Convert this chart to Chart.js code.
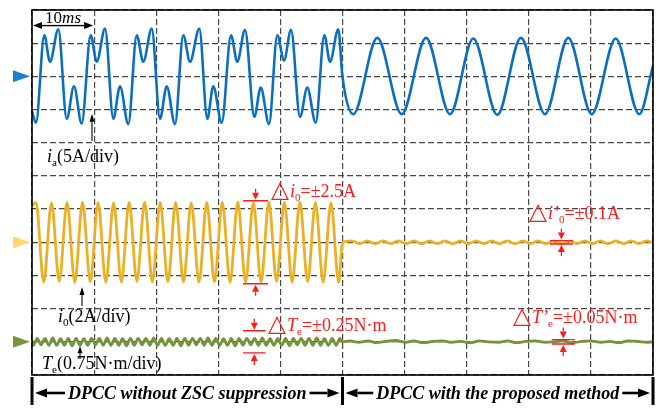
<!DOCTYPE html>
<html>
<head>
<meta charset="utf-8">
<script src="https://cdn.jsdelivr.net/npm/chart.js@4/dist/chart.umd.min.js"></script>
<style>
  html, body { margin: 0; padding: 0; background: #ffffff; }
  #wrap { width: 658px; height: 408px; }
</style>
</head>
<body>
<div id="wrap"><canvas id="scope" width="658" height="408"></canvas></div>
<script>
// ---- Time base: 10 ms per division, 10 divisions; ZSC suppression switched on at 50 ms ----
const timeDivs = [0, 10, 20, 30, 40, 50, 60, 70, 80, 90, 100];
const switchTime = 50;

// ---- Phase current i_a (A) ----
const iaTime = [
  0, 0.64,
  1.98, 2.90, 4.24, 5.59, 6.76, 8.00,
  9.45, 10.42, 11.76, 13.09, 14.17, 15.51,
  16.86, 17.92, 19.28, 20.61, 21.69, 23.03,
  24.36, 25.44, 26.94, 28.23, 29.19, 30.55,
  32.04, 33.06, 34.30, 35.80, 36.83, 38.17,
  39.50, 40.58, 41.71, 43.16, 44.33, 45.68,
  47.07, 47.99, 49.32, 50.00,
  51.74, 55.60, 59.53, 63.45, 67.31, 71.06, 74.93, 78.74, 82.61, 86.36, 90.13, 93.99, 97.79, 100
];
const iaCurrent = [
  -5.3, -7.0,
  6.2, 2.2, 7.1, -6.4, -1.5, -7.1,
  6.2, 2.2, 7.2, -6.4, -1.5, -7.2,
  6.2, 2.2, 7.2, -6.4, -1.5, -7.2,
  6.2, 2.2, 7.2, -6.4, -1.5, -7.0,
  6.2, 2.2, 7.0, -6.1, -1.7, -7.2,
  6.2, 2.4, 7.0, -6.1, -1.7, -7.0,
  6.2, 2.2, 7.1, -0.1,
  -5.7, 5.8, -5.7, 5.8, -5.7, 5.7, -5.8, 5.8, -5.7, 5.8, -5.7, 5.7, -5.7, 1.6
];

// ---- Zero-sequence current i_0 (A) ----
const i0Time = [
  0, 0.64, 1.89, 3.14, 4.39, 5.64, 6.89, 8.14, 9.39, 10.64, 11.89,
  13.14, 14.39, 15.64, 16.89, 18.14, 19.39, 20.64, 21.89, 23.14, 24.39,
  25.64, 26.89, 28.14, 29.39, 30.64, 31.89, 33.14, 34.39, 35.64, 36.89,
  38.14, 39.39, 40.64, 41.89, 43.14, 44.39, 45.64, 46.89, 48.14, 49.39, 50.0,
  51.5, 52.75, 54.0, 55.25, 56.5, 57.75, 59.0, 60.25, 61.5, 62.75,
  64.0, 65.25, 66.5, 67.75, 69.0, 70.25, 71.5, 72.75, 74.0, 75.25,
  76.5, 77.75, 79.0, 80.25, 81.5, 82.75, 84.0, 85.25, 86.5, 87.75,
  89.0, 90.25, 91.5, 92.75, 94.0, 95.25, 96.5, 97.75, 99.0, 100.0
];
const i0Current = [
  2.2, 2.4, -2.4, 2.38, -2.36, 2.4, -2.4, 2.42, -2.38, 2.4, -2.4,
  2.38, -2.4, 2.4, -2.36, 2.42, -2.4, 2.4, -2.38, 2.4, -2.4,
  2.38, -2.42, 2.4, -2.38, 2.4, -2.4, 2.42, -2.4, 2.38, -2.4,
  2.4, -2.36, 2.4, -2.4, 2.42, -2.38, 2.4, -2.4, 2.38, -2.42, 0.0,
  0.09, -0.08, 0.09, -0.09, 0.08, -0.08, 0.09, -0.08, 0.09, -0.09,
  0.08, -0.08, 0.09, -0.08, 0.09, -0.09, 0.08, -0.08, 0.09, -0.08,
  0.09, -0.09, 0.08, -0.08, 0.09, -0.08, 0.09, -0.09, 0.08, -0.08,
  0.09, -0.08, 0.09, -0.09, 0.08, -0.08, 0.09, -0.08, 0.09, -0.03
];

// ---- Electromagnetic torque ripple T_e (N·m, around its mean) ----
const teTime = [
  0,
  0.22, 0.84, 1.47, 2.09, 2.72, 3.34, 3.97, 4.59, 5.22, 5.84,
  6.47, 7.09, 7.72, 8.34, 8.97, 9.59, 10.22, 10.84, 11.47, 12.09,
  12.72, 13.34, 13.97, 14.59, 15.22, 15.84, 16.47, 17.09, 17.72, 18.34,
  18.97, 19.59, 20.22, 20.84, 21.47, 22.09, 22.72, 23.34, 23.97, 24.59,
  25.22, 25.84, 26.47, 27.09, 27.72, 28.34, 28.97, 29.59, 30.22, 30.84,
  31.47, 32.09, 32.72, 33.34, 33.97, 34.59, 35.22, 35.84, 36.47, 37.09,
  37.72, 38.34, 38.97, 39.59, 40.22, 40.84, 41.47, 42.09, 42.72, 43.34,
  43.97, 44.59, 45.22, 45.84, 46.47, 47.09, 47.72, 48.34, 48.97, 49.59,
  50.0,
  51.2, 52.6, 54.1, 55.5, 57.0, 58.6, 60.1, 61.5, 63.0, 64.6,
  66.1, 67.5, 69.0, 70.6, 72.0, 73.5, 75.1, 76.6, 78.0, 79.5,
  81.1, 82.6, 84.0, 85.5, 87.1, 88.5, 90.0, 91.6, 93.1, 94.5,
  96.0, 97.6, 99.0, 100.0
];
const teTorque = [
  0.02,
  -0.08, 0.08, -0.07, 0.08, -0.08, 0.09, -0.08, 0.07, -0.08, 0.08,
  -0.09, 0.08, -0.08, 0.07, -0.08, 0.08, -0.07, 0.08, -0.08, 0.09,
  -0.08, 0.08, -0.08, 0.07, -0.09, 0.08, -0.08, 0.08, -0.07, 0.08,
  -0.08, 0.09, -0.08, 0.08, -0.08, 0.07, -0.08, 0.08, -0.09, 0.08,
  -0.08, 0.08, -0.07, 0.08, -0.08, 0.09, -0.08, 0.08, -0.08, 0.07,
  -0.08, 0.08, -0.09, 0.08, -0.08, 0.08, -0.07, 0.08, -0.08, 0.09,
  -0.08, 0.07, -0.08, 0.08, -0.08, 0.08, -0.09, 0.08, -0.07, 0.08,
  -0.08, 0.08, -0.08, 0.09, -0.08, 0.07, -0.08, 0.08, -0.08, 0.08,
  0.0,
  0.02, -0.01, 0.02, -0.02, 0.01, 0.03, -0.01, 0.02, -0.02, 0.01,
  0.02, -0.01, 0.01, -0.02, 0.02, 0.0, -0.01, 0.02, -0.02, 0.01,
  0.02, -0.01, 0.0, 0.02, -0.02, 0.01, 0.02, -0.01, 0.01, -0.02,
  0.02, 0.01, -0.01, 0.0
];

// ---- Ripple bands quoted on the screen ----
const i0RippleBefore = 2.5;    // A
const i0RippleAfter = 0.1;     // A
const teRippleBefore = 0.25;   // N·m
const teRippleAfter = 0.05;    // N·m

// ---- Channel settings: per-division scaling and ground level (in divisions) ----
const channels = {
  ia: { perDiv: 5,    ground: 9, color: '#0b6fc1', marker: '#1b7fd1' },
  i0: { perDiv: 2,    ground: 4, color: '#ecb025', marker: '#ffd76c' },
  te: { perDiv: 0.75, ground: 1, color: '#76923c', marker: '#78953f' }
};
const toDiv = (ch, v) => channels[ch].ground + v / channels[ch].perDiv;
const trace = (ch, times, values) => times.map((t, i) => ({ x: t, y: toDiv(ch, values[i]) }));

const SERIF = '"Liberation Serif", "Times New Roman", "DejaVu Serif", serif';

// Text run with italic / subscript pieces; `scale` enlarges a single glyph (the delta sign)
function drawRich(ctx, parts, x, y, size, color) {
  let cx = x;
  ctx.fillStyle = color;
  ctx.textAlign = 'left';
  ctx.textBaseline = 'alphabetic';
  for (const p of parts) {
    const fs = (p.sub ? size * 0.62 : size) * (p.scale || 1);
    ctx.font = (p.italic ? 'italic ' : '') + (p.bold ? 'bold ' : '') + fs + 'px ' + SERIF;
    ctx.fillText(p.t, cx, p.sub ? y + size * 0.22 : y);
    cx += ctx.measureText(p.t).width + (p.gap || 0);
  }
  return cx - x;
}

function arrow(ctx, x1, y1, x2, y2, headLen, headW, lw, color) {
  const ang = Math.atan2(y2 - y1, x2 - x1);
  const bx = x2 - headLen * Math.cos(ang), by = y2 - headLen * Math.sin(ang);
  ctx.strokeStyle = color;
  ctx.lineWidth = lw;
  ctx.beginPath(); ctx.moveTo(x1, y1); ctx.lineTo(bx, by); ctx.stroke();
  ctx.fillStyle = color;
  ctx.beginPath();
  ctx.moveTo(x2, y2);
  ctx.lineTo(bx + headW / 2 * Math.sin(ang), by - headW / 2 * Math.cos(ang));
  ctx.lineTo(bx - headW / 2 * Math.sin(ang), by + headW / 2 * Math.cos(ang));
  ctx.closePath();
  ctx.fill();
}

// Red bracket with inward arrows marking a ripple band
function rippleBracket(ctx, xL, xR, yTop, yBot, color) {
  ctx.strokeStyle = color;
  ctx.lineWidth = 1.4;
  ctx.beginPath();
  ctx.moveTo(xL, yTop); ctx.lineTo(xR, yTop);
  ctx.moveTo(xL, yBot); ctx.lineTo(xR, yBot);
  ctx.stroke();
  const xm = (xL + xR) / 2;
  arrow(ctx, xm, yTop - 12, xm, yTop - 1, 7, 7, 1.3, color);
  arrow(ctx, xm, yBot + 12, xm, yBot + 1, 7, 7, 1.3, color);
}

const DELTA = { t: '\u25b3', scale: 1.3, gap: 1 };

const scopeOverlay = {
  id: 'scopeOverlay',
  afterDatasetsDraw(chart) {
    const { ctx, chartArea: a, scales: { x, y } } = chart;
    const px = t => x.getPixelForValue(t);
    const py = d => y.getPixelForValue(d);
    const RED = '#ff1a1a';
    ctx.save();

    // screen frame
    ctx.strokeStyle = '#000';
    ctx.lineWidth = 1.6;
    ctx.strokeRect(a.left, a.top, a.right - a.left, a.bottom - a.top);

    // channel ground markers
    for (const key of ['ia', 'i0', 'te']) {
      const yy = py(channels[key].ground);
      ctx.fillStyle = channels[key].marker;
      ctx.beginPath();
      ctx.moveTo(a.left - 2, yy);
      ctx.lineTo(a.left - 19, yy - 6);
      ctx.lineTo(a.left - 19, yy + 6);
      ctx.closePath();
      ctx.fill();
    }

    // 10 ms time-base marker
    const yT = py(10.53);
    arrow(ctx, px(5), yT, px(0) + 1, yT, 9, 7, 1.4, '#000');
    arrow(ctx, px(5), yT, px(10) - 1, yT, 9, 7, 1.4, '#000');
    ctx.font = '17px ' + SERIF;
    const w10 = ctx.measureText('10').width;
    ctx.font = 'italic 17px ' + SERIF;
    const wms = ctx.measureText('ms').width;
    drawRich(ctx, [{ t: '10' }, { t: 'ms', italic: true }], px(5) - (w10 + wms) / 2, yT - 2.5, 17, '#000');

    // channel labels with pointers
    drawRich(ctx, [{ t: 'i', italic: true }, { t: 'a', sub: true }, { t: '(5A/div)' }], px(2.42), py(6.42), 18, '#000');
    arrow(ctx, px(9.66), py(7.05), px(9.66), py(7.87), 8, 5, 1.1, '#000');

    drawRich(ctx, [{ t: 'i', italic: true }, { t: '0', sub: true }, { t: '(2A/div)' }], px(4.19), py(1.60), 18, '#000');
    arrow(ctx, px(8.05), py(2.08), px(8.05), py(2.65), 8, 5, 1.1, '#000');

    drawRich(ctx, [{ t: 'T', italic: true }, { t: 'e', sub: true }, { t: '(0.75N\u00b7m/div)' }], px(1.6), py(0.18), 18, '#000');
    arrow(ctx, px(7.73), py(0.48), px(7.73), py(0.87), 7, 5, 1.1, '#000');

    // ripple bands
    rippleBracket(ctx, px(34.0), px(38.0), py(toDiv('i0', i0RippleBefore)), py(toDiv('i0', -i0RippleBefore)), RED);
    drawRich(ctx, [DELTA, { t: 'i', italic: true }, { t: '0', sub: true }, { t: '=\u00b1' + i0RippleBefore + 'A' }], px(38.49), py(5.36), 18, RED);

    rippleBracket(ctx, px(83.4), px(87.1), py(toDiv('i0', i0RippleAfter)), py(toDiv('i0', -i0RippleAfter)), RED);
    drawRich(ctx, [DELTA, { t: 'i\u2019', italic: true }, { t: '0', sub: true }, { t: '=\u00b1' + i0RippleAfter + 'A' }], px(80.03), py(4.70), 18, RED);

    rippleBracket(ctx, px(34.0), px(37.6), py(toDiv('te', teRippleBefore)), py(toDiv('te', -teRippleBefore)), RED);
    drawRich(ctx, [DELTA, { t: 'T', italic: true }, { t: 'e', sub: true }, { t: '=\u00b1' + teRippleBefore + 'N\u00b7m' }], px(38.0), py(1.33), 18, RED);

    rippleBracket(ctx, px(83.7), px(87.4), py(toDiv('te', teRippleAfter)), py(toDiv('te', -teRippleAfter)), RED);
    drawRich(ctx, [DELTA, { t: 'T\u2019', italic: true }, { t: 'e', sub: true }, { t: '=\u00b1' + teRippleAfter + 'N\u00b7m' }], px(77.45), py(1.57), 18, RED);

    // operating-mode strip under the screen
    const yb = a.bottom + 18;
    ctx.fillStyle = '#000';
    for (const t of [0, switchTime, 100]) {
      ctx.fillRect(px(t) - 1.5, a.bottom + 2, 3, 28);
    }
    const modes = [
      { text: 'DPCC without ZSC suppression', from: 0, to: switchTime },
      { text: 'DPCC with the proposed method', from: switchTime, to: 100 }
    ];
    for (const m of modes) {
      const xl = px(m.from), xr = px(m.to), xc = (xl + xr) / 2;
      ctx.font = 'italic bold 18px ' + SERIF;
      const w = ctx.measureText(m.text).width;
      ctx.fillStyle = '#000';
      ctx.textAlign = 'center';
      ctx.textBaseline = 'middle';
      ctx.fillText(m.text, xc, yb + 1);
      arrow(ctx, xc - w / 2 - 3, yb, xl + 3, yb, 12, 9, 2.6, '#000');
      arrow(ctx, xc + w / 2 + 3, yb, xr - 3, yb, 12, 9, 2.6, '#000');
    }
    ctx.restore();
  }
};

const lineStyle = (color, width) => ({
  borderColor: color,
  borderWidth: width,
  pointRadius: 0,
  fill: false,
  cubicInterpolationMode: 'monotone',
  borderJoinStyle: 'round',
  borderCapStyle: 'round'
});

new Chart(document.getElementById('scope'), {
  type: 'line',
  data: {
    datasets: [
      { label: 'i_a', data: trace('ia', iaTime, iaCurrent), ...lineStyle(channels.ia.color, 2.6) },
      { label: 'i_0', data: trace('i0', i0Time, i0Current), ...lineStyle(channels.i0.color, 2.8) },
      { label: 'T_e', data: trace('te', teTime, teTorque), ...lineStyle(channels.te.color, 2.8) }
    ]
  },
  options: {
    responsive: false,
    devicePixelRatio: 1,
    animation: false,
    events: [],
    layout: { padding: { left: 32, top: 10, right: 5, bottom: 33 } },
    plugins: { legend: { display: false }, tooltip: { enabled: false } },
    scales: {
      x: {
        type: 'linear', min: timeDivs[0], max: timeDivs[timeDivs.length - 1],
        ticks: { display: false, stepSize: 10 },
        grid: { color: '#474747', lineWidth: 1.2, drawTicks: false },
        border: { display: false, dash: [6, 3] }
      },
      y: {
        type: 'linear', min: 0, max: 11,
        ticks: { display: false, stepSize: 1 },
        grid: { color: '#474747', lineWidth: 1.2, drawTicks: false },
        border: { display: false, dash: [6, 3] }
      }
    }
  },
  plugins: [scopeOverlay]
});
</script>
</body>
</html>
